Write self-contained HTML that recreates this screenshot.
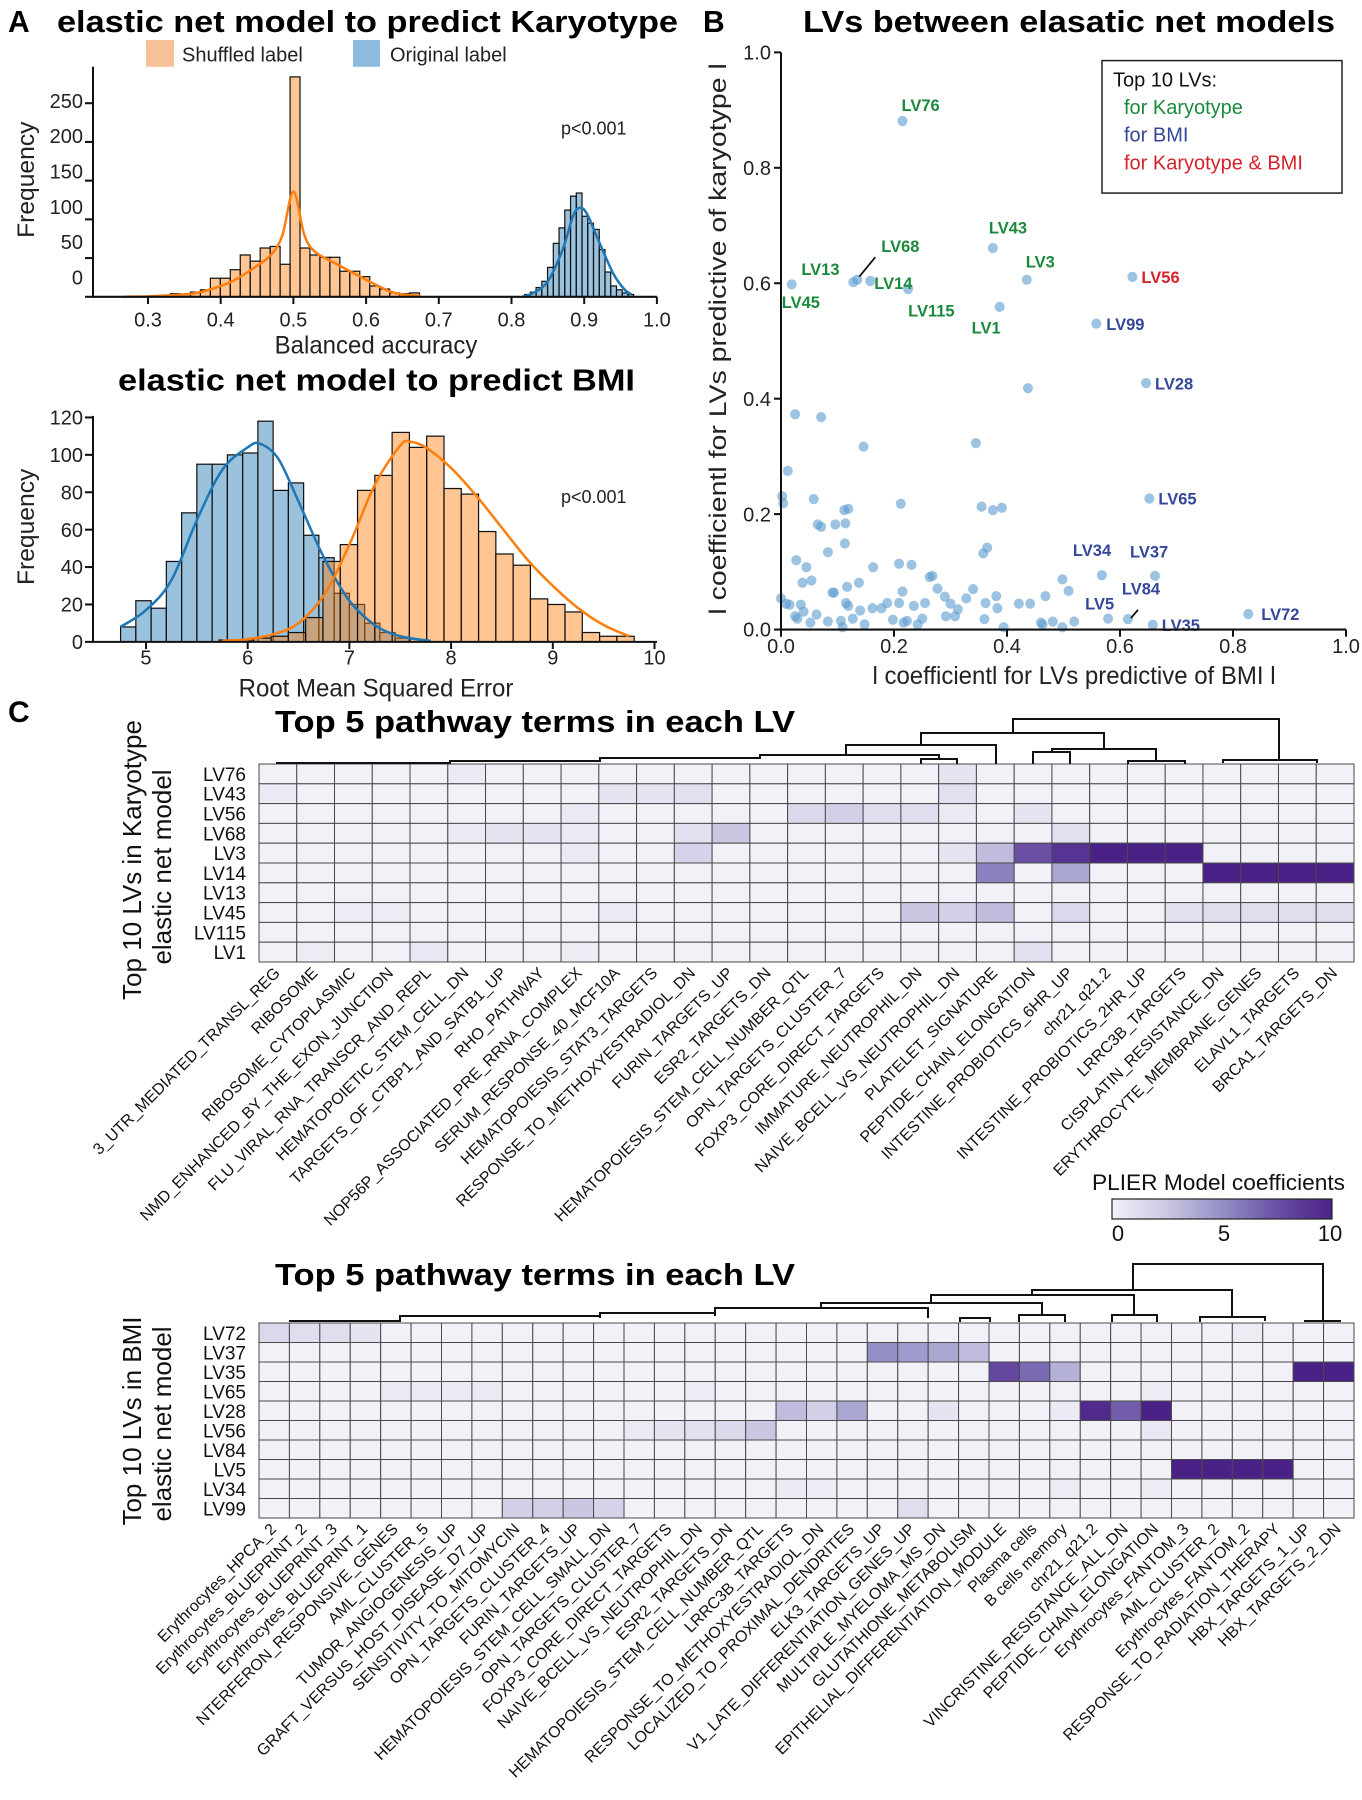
<!DOCTYPE html>
<html><head><meta charset="utf-8">
<style>
html,body{margin:0;padding:0;background:#fff;}
svg{display:block;font-family:"Liberation Sans",sans-serif;}
</style></head>
<body>
<svg id="fig" width="1362" height="1800" viewBox="0 0 1362 1800" xmlns="http://www.w3.org/2000/svg">
<g id="panelA" transform="matrix(1,0,0,1.027,0,0)"></g>
<g id="panelB" transform="matrix(1,0,0,1.027,0,0)"></g>
<g id="panelC"></g>
</svg>
<script>
// ---------- Panel A data ----------
const karyoShufStart = 0.331, karyoShufWidth = 0.0137;
const karyoShufCounts = [4,3,6,9,24,24,35,54,46,63,65,42,284,63,54,51,51,33,33,26,14,10,5,4,5];
const karyoOrigStart = 0.818, karyoOrigWidth = 0.0079;
const karyoOrigCounts = [3,6,12,20,38,69,89,112,130,134,104,95,87,61,32,14,9,5,3];
const karyoShufKdeX = [0.265,0.30,0.33,0.36,0.38,0.40,0.42,0.45,0.47,0.485,0.50,0.515,0.53,0.56,0.60,0.63,0.65,0.675];
const karyoShufKdeY = [0,0.5,2,4,8,14,22,40,55,80,136,80,58,42,22,8,3,1];
const karyoOrigKdeX = [0.815,0.83,0.85,0.87,0.885,0.895,0.905,0.92,0.94,0.955,0.965];
const karyoOrigKdeY = [0,5,20,60,105,115,105,72,30,10,3];
const karyoXTicks = [0.3,0.4,0.5,0.6,0.7,0.8,0.9,1.0];
const karyoXTickLabels = ["0.3","0.4","0.5","0.6","0.7","0.8","0.9","1.0"];
const karyoYTicks = [0,50,100,150,200,250];

const bmiOrigStart = 4.75, bmiOrigWidth = 0.15;
const bmiOrigCounts = [8,22,18,43,69,95,95,100,101,118,81,85,57,45,26,20,10,5,2];
const bmiShufStart = 5.72, bmiShufWidth = 0.17;
const bmiShufCounts = [1,1,2,3,5,13,43,52,81,89,112,104,110,82,79,59,47,41,23,20,16,5,3,3];
const bmiOrigKdeX = [4.75,5.0,5.25,5.5,5.75,6.0,6.12,6.3,6.5,6.75,7.0,7.25,7.5,7.8];
const bmiOrigKdeY = [8,17,33,65,92,104,106,98,75,45,22,9,3,0.5];
const bmiShufKdeX = [5.75,6.0,6.25,6.5,6.75,7.0,7.25,7.5,7.6,7.75,8.0,8.25,8.5,8.75,9.0,9.25,9.5,9.75];
const bmiShufKdeY = [0.5,1.5,4,10,25,52,84,105,107,104,93,78,61,44,30,18,9,3];
const bmiXTicks = [5,6,7,8,9,10];
const bmiYTicks = [0,20,40,60,80,100,120];

// ---------- Panel B data ----------
const lvNames = ["LV76","LV43","LV13","LV68","LV14","LV45","LV115","LV3","LV1","LV56","LV99","LV28","LV65","LV34","LV37","LV5","LV84","LV35","LV72"];
const lvBmiCoef = [0.215,0.375,0.128,0.135,0.158,0.019,0.225,0.435,0.387,0.622,0.558,0.646,0.652,0.568,0.662,0.579,0.614,0.658,0.827];
const lvKarCoef = [0.881,0.661,0.602,0.606,0.604,0.598,0.59,0.606,0.559,0.611,0.53,0.427,0.227,0.094,0.093,0.019,0.018,0.008,0.027];
const lvGroup = ["k","k","k","k","k","k","k","k","k","b2","b","b","b","b","b","b","b","b","b"];
const otherBmiCoef = [0.437,0.345,0.025,0.071,0.146,0.012,0.002,0.004,0.058,0.212,0.355,0.375,0.391,0.119,0.112,0.065,0.071,0.096,0.114,0.113,0.083,0.365,0.358,0.027,0.045,0.038,0.054,0.163,0.209,0.231,0.263,0.268,0.091,0.094,0.117,0.138,0.277,0.29,0.3,0.313,0.328,0.34,0.381,0.383,0.362,0.421,0.441,0.468,0.498,0.509,0.0,0.009,0.015,0.035,0.04,0.029,0.025,0.063,0.052,0.083,0.106,0.109,0.115,0.119,0.127,0.14,0.148,0.162,0.178,0.188,0.198,0.209,0.215,0.217,0.223,0.235,0.242,0.25,0.255,0.292,0.308,0.36,0.394,0.46,0.463,0.481,0.498,0.519];
const otherKarCoef = [0.418,0.323,0.373,0.368,0.317,0.275,0.231,0.219,0.226,0.218,0.213,0.207,0.211,0.209,0.207,0.182,0.178,0.182,0.184,0.149,0.134,0.142,0.132,0.12,0.108,0.081,0.085,0.108,0.114,0.112,0.091,0.093,0.064,0.064,0.074,0.081,0.071,0.057,0.045,0.035,0.054,0.07,0.058,0.037,0.046,0.045,0.045,0.058,0.087,0.067,0.054,0.045,0.043,0.043,0.031,0.019,0.023,0.026,0.012,0.014,0.015,0.004,0.046,0.041,0.019,0.033,0.009,0.037,0.037,0.046,0.017,0.046,0.066,0.012,0.015,0.041,0.009,0.019,0.046,0.023,0.023,0.018,0.004,0.012,0.009,0.014,0.004,0.014];
const bTicks = [0,0.2,0.4,0.6,0.8,1.0];
const bTickLabels = ["0.0","0.2","0.4","0.6","0.8","1.0"];

// ---------- Panel C data ----------
const karRows = ["LV76","LV43","LV56","LV68","LV3","LV14","LV13","LV45","LV115","LV1"];
const karCols = ["3_UTR_MEDIATED_TRANSL_REG","RIBOSOME","RIBOSOME_CYTOPLASMIC","NMD_ENHANCED_BY_THE_EXON_JUNCTION","FLU_VIRAL_RNA_TRANSCR_AND_REPL","HEMATOPOIETIC_STEM_CELL_DN","TARGETS_OF_CTBP1_AND_SATB1_UP","RHO_PATHWAY","NOP56P_ASSOCIATED_PRE_RRNA_COMPLEX","SERUM_RESPONSE_40_MCF10A","HEMATOPOIESIS_STAT3_TARGETS","RESPONSE_TO_METHOXYESTRADIOL_DN","FURIN_TARGETS_UP","ESR2_TARGETS_DN","HEMATOPOIESIS_STEM_CELL_NUMBER_QTL","OPN_TARGETS_CLUSTER_7","FOXP3_CORE_DIRECT_TARGETS","IMMATURE_NEUTROPHIL_DN","NAIVE_BCELL_VS_NEUTROPHIL_DN","PLATELET_SIGNATURE","PEPTIDE_CHAIN_ELONGATION","INTESTINE_PROBIOTICS_6HR_UP","chr21_q21.2","INTESTINE_PROBIOTICS_2HR_UP","LRRC3B_TARGETS","CISPLATIN_RESISTANCE_DN","ERYTHROCYTE_MEMBRANE_GENES","ELAVL1_TARGETS","BRCA1_TARGETS_DN"];
const karValues = [
 [0,0,0,0,0,0.4,0,0,0,0,0,0,0,0,0,0,0,0,0.8,0,0,0,0,0,0,0,0,0,0],
 [0.5,0,0,0,0,0,0,0,0,0.8,0.8,1,0,0,0,0,0,0,1,0,0,0,0,0,0,0,0,0,0],
 [0,0,0,0,0,0,0,0,0.5,0,0,0,0,0,1.5,2,1.2,1.2,0.5,0,0.8,0,0,0,0,0,0,0,0],
 [0,0,0,0,0,0.5,0.8,0.8,0.5,0,0,1,2.5,0,0,0,0,0,0,0,0,1,0,0,0,0,0,0,0],
 [0,0,0,0,0,0,0,0,0.5,0,0,1.8,0,0,0,0,0,0,0.8,3,7.5,9,10,10,10,0,0,0,0],
 [0,0,0,0,0,0,0,0,0,0,0,0,0,0,0,0,0,0,0,5.5,0,4,0,0,0,10,10,10,10],
 [0,0,0,0,0,0,0,0,0,0,0,0,0,0,0,0,0,0,0,0,0,0,0,0,0,0,0,0,0],
 [0,0,0.3,0.3,0,0,0,0,0,0.5,0,0,0,0,0,0,0,2.5,2,3,0,1.5,0,0,1,1.2,1.2,1.2,1.2],
 [0,0,0,0,0,0,0,0,0,0,0,0,0,0,0,0,0,0,0,0,0,0,0,0,0,0,0,0,0],
 [0,0.3,0,0,0.6,0,0,0,0.3,0,0,0,0,0,0,0,0,0,0,0,1,0,0,0,0,0,0,0,0]
];
const bmiRows = ["LV72","LV37","LV35","LV65","LV28","LV56","LV84","LV5","LV34","LV99"];
const bmiCols = ["Erythrocytes_HPCA_2","Erythrocytes_BLUEPRINT_2","Erythrocytes_BLUEPRINT_3","Erythrocytes_BLUEPRINT_1","NTERFERON_RESPONSIVE_GENES","AML_CLUSTER_5","TUMOR_ANGIOGENESIS_UP","GRAFT_VERSUS_HOST_DISEASE_D7_UP","SENSITIVITY_TO_MITOMYCIN","OPN_TARGETS_CLUSTER_4","FURIN_TARGETS_UP","HEMATOPOIESIS_STEM_CELL_SMALL_DN","OPN_TARGETS_CLUSTER_7","FOXP3_CORE_DIRECT_TARGETS","NAIVE_BCELL_VS_NEUTROPHIL_DN","ESR2_TARGETS_DN","HEMATOPOIESIS_STEM_CELL_NUMBER_QTL","LRRC3B_TARGETS","RESPONSE_TO_METHOXYESTRADIOL_DN","LOCALIZED_TO_PROXIMAL_DENDRITES","ELK3_TARGETS_UP","V1_LATE_DIFFERENTIATION_GENES_UP","MULTIPLE_MYELOMA_MS_DN","GLUTATHIONE_METABOLISM","EPITHELIAL_DIFFERENTIATION_MODULE","Plasma cells","B cells memory","chr21_q21.2","VINCRISTINE_RESISTANCE_ALL_DN","PEPTIDE_CHAIN_ELONGATION","Erythrocytes_FANTOM_3","AML_CLUSTER_2","Erythrocytes_FANTOM_2","RESPONSE_TO_RADIATION_THERAPY","HBX_TARGETS_1_UP","HBX_TARGETS_2_DN"];
const bmiValues = [
 [1.5,1.2,1.2,0.8,0,0,0,0,0,0,0,0,0,0,0,0,0,0,0,0,0,0,0,0,0,0,0,0,0,0,0,0,0.3,0,0,0],
 [0,0,0,0,0,0,0,0,0,0,0,0,0,0,0,0,0,0,0,0,5,4.5,4,3,0,0,0,0,0,0,0,0,0,0,0,0],
 [0,0,0,0,0,0,0,0,0,0,0,0,0,0,0,0,0,0,0,0,0,0,0,0,8,6.5,3.5,0,0,0,0,0,0,0,10,10],
 [0,0,0,0,0.5,0.5,0.5,0.5,0,0,0,0,0,0,0.3,0,0,0,0,0,0,0,0,0,0,0,0,0,0,0.3,0,0,0,0,0,0],
 [0,0,0,0,0,0,0,0,0,0,0,0,0,0,0,0,0,3,2,4,0,0,0.8,0,0,0,0.4,9.5,7,10,0,0,0,0,0,0],
 [0,0,0,0,0,0,0,0,0,0,0,0,0.5,0.8,1,1.5,2.5,0,0,0,0,0,0,0,0,0,0,0,0,0.6,0,0,0,0,0,0],
 [0,0,0,0,0,0,0,0,0,0,0,0,0,0,0,0,0,0,0,0,0,0,0,0,0,0,0,0,0,0,0,0,0,0,0,0],
 [0,0,0,0,0,0,0,0,0,0,0,0,0,0,0,0,0,0,0,0,0,0,0,0,0,0,0,0,0,0,10,10,10,10,0,0],
 [0,0,0,0,0,0,0,0,0,0,0,0,0,0,0,0,0,0.4,0.3,0,0,0,0,0,0,0,0.3,0,0,0.3,0,0,0,0,0,0],
 [0,0,0,0,0,0,0,0,2,2,2.5,1.8,0,0,0,0,0,0,0,0,0,1.2,0,0,0,0,0,0,0,0,0,0,0,0,0,0]
];
const cbarTicks = [0,5,10];

// ---------- helpers ----------
const NS = "http://www.w3.org/2000/svg";
function mk(parent, tag, attrs, text){
  const e = document.createElementNS(NS, tag);
  for (const k in attrs) e.setAttribute(k, attrs[k]);
  if (text !== undefined) e.textContent = text;
  parent.appendChild(e);
  return e;
}
function smoothPath(pts){
  let d = "M"+pts[0][0].toFixed(1)+","+pts[0][1].toFixed(1);
  for (let i=0;i<pts.length-1;i++){
    const p0=pts[i-1]||pts[i], p1=pts[i], p2=pts[i+1], p3=pts[i+2]||p2;
    const c1x=p1[0]+(p2[0]-p0[0])/6, c1y=p1[1]+(p2[1]-p0[1])/6;
    const c2x=p2[0]-(p3[0]-p1[0])/6, c2y=p2[1]-(p3[1]-p1[1])/6;
    d+=" C"+c1x.toFixed(1)+","+c1y.toFixed(1)+" "+c2x.toFixed(1)+","+c2y.toFixed(1)+" "+p2[0].toFixed(1)+","+p2[1].toFixed(1);
  }
  return d;
}
const ORANGE="#ff7f0e", BLUE="#1f77b4";

// ---------- Panel A ----------
const A = document.getElementById("panelA");
let t;
t = mk(A,"text",{x:8,y:31,"font-size":30,"font-weight":"bold"},"A");
 
t = mk(A,"text",{x:57,y:31,"font-size":30,"font-weight":"bold",textLength:621,lengthAdjust:"spacingAndGlyphs"},"elastic net model to predict Karyotype");
 
const lg = mk(A,"g",{});
 
t = mk(lg,"rect",{x:146,y:39,width:28,height:26,fill:"#f8c096"});
 
t = mk(lg,"text",{x:182,y:60,"font-size":20,fill:"#222"},"Shuffled label");
 
t = mk(lg,"rect",{x:353,y:39,width:27,height:26,fill:"#8fbadf"});
 
t = mk(lg,"text",{x:390,y:60,"font-size":20,fill:"#222"},"Original label");
 

function histPanel(cfg){
  const g = mk(A,"g",{});
   
  const sx = cfg.sx, sy = cfg.sy;
  function bars(start,width,counts,color,nm){
    counts.forEach((c,i)=>{
      const x0=sx(start+i*width), x1=sx(start+(i+1)*width);
      const r = mk(g,"rect",{x:x0,y:sy(c),width:x1-x0,height:sy(0)-sy(c),fill:color,"fill-opacity":0.45,stroke:"#111","stroke-width":1.2});
       
    });
  }
  cfg.series.forEach(s=>bars(s.start,s.width,s.counts,s.color,s.nm));
  cfg.kdes.forEach(k=>{
    const pts = k.x.map((v,i)=>[sx(v),sy(k.y[i])]);
    const p = mk(g,"path",{d:smoothPath(pts),fill:"none",stroke:k.color,"stroke-width":2.5});
     
  });
  const ax = mk(g,"g",{});
   
  mk(ax,"line",{x1:93,y1:sy(0),x2:657,y2:sy(0),stroke:"#111","stroke-width":2});
  mk(ax,"line",{x1:93,y1:sy(0)+1,x2:93,y2:cfg.yTop,stroke:"#111","stroke-width":2});
  cfg.xt.forEach((v,i)=>{
    mk(ax,"line",{x1:sx(v),y1:sy(0),x2:sx(v),y2:sy(0)+7,stroke:"#111","stroke-width":2});
    const tl = mk(ax,"text",{x:sx(v),y:cfg.xLabY,"font-size":20,"text-anchor":"middle",fill:"#222"},cfg.xtl[i]);
     
  });
  cfg.yt.forEach(v=>{
    mk(ax,"line",{x1:85,y1:sy(v),x2:93,y2:sy(v),stroke:"#111","stroke-width":2});
    const tl = mk(ax,"text",{x:83,y:cfg.yLab(v)+7,"font-size":20,"text-anchor":"end",fill:"#222"},String(v));
     
  });
  let tt = mk(g,"text",{x:376,y:cfg.xTitleY,"font-size":24,"text-anchor":"middle",fill:"#222"},cfg.xTitle);
   
  tt = mk(g,"text",{x:0,y:0,"font-size":24,"text-anchor":"middle",fill:"#222",transform:"translate(34,"+cfg.yTitleC+") rotate(-90)"},"Frequency");
   
  tt = mk(g,"text",{x:561,y:cfg.pY,"font-size":18,fill:"#222"},"p<0.001");
   
}
histPanel({
  name:"karyotype-histogram",
  sx:v=>148+(v-0.3)*727, sy:f=>289-f*0.754,
  series:[{start:karyoShufStart,width:karyoShufWidth,counts:karyoShufCounts,color:ORANGE,nm:"shuffled"},
          {start:karyoOrigStart,width:karyoOrigWidth,counts:karyoOrigCounts,color:BLUE,nm:"original"}],
  kdes:[{x:karyoShufKdeX,y:karyoShufKdeY,color:ORANGE,nm:"shuffled"},{x:karyoOrigKdeX,y:karyoOrigKdeY,color:BLUE,nm:"original"}],
  xt:karyoXTicks, xtl:karyoXTickLabels, yt:karyoYTicks,
  yLab:f=>270-f*0.688, yTop:65, xLabY:318, xTitle:"Balanced accuracy", xTitleY:344, yTitleC:175, pY:131
});
t = mk(A,"text",{x:118,y:380,"font-size":30,"font-weight":"bold",textLength:517,lengthAdjust:"spacingAndGlyphs"},"elastic net model to predict BMI");
 
histPanel({
  name:"bmi-histogram",
  sx:v=>146+(v-5)*101.7, sy:f=>625-f*1.821,
  series:[{start:bmiOrigStart,width:bmiOrigWidth,counts:bmiOrigCounts,color:BLUE,nm:"original"},
          {start:bmiShufStart,width:bmiShufWidth,counts:bmiShufCounts,color:ORANGE,nm:"shuffled"}],
  kdes:[{x:bmiOrigKdeX,y:bmiOrigKdeY,color:BLUE,nm:"original"},{x:bmiShufKdeX,y:bmiShufKdeY,color:ORANGE,nm:"shuffled"}],
  xt:bmiXTicks, xtl:bmiXTicks.map(String), yt:bmiYTicks,
  yLab:f=>625-f*1.821, yTop:405, xLabY:647, xTitle:"Root Mean Squared Error", xTitleY:678, yTitleC:513, pY:490
});

// ---------- Panel B ----------
const B = document.getElementById("panelB");
const bx = v=>781+v*565, by = v=>613-v*562;
t = mk(B,"text",{x:703,y:31,"font-size":30,"font-weight":"bold"},"B");
 
t = mk(B,"text",{x:803,y:31,"font-size":30,"font-weight":"bold",textLength:532,lengthAdjust:"spacingAndGlyphs"},"LVs between elasatic net models");
 
const pts = mk(B,"g",{});
 
otherBmiCoef.forEach((v,i)=>{
  const c = mk(pts,"circle",{cx:bx(v),cy:by(otherKarCoef[i]),r:5,fill:"#5b9bd0","fill-opacity":0.6});
   
});
lvBmiCoef.forEach((v,i)=>{
  const c = mk(pts,"circle",{cx:bx(v),cy:by(lvKarCoef[i]),r:5,fill:"#5b9bd0","fill-opacity":0.6});
   
});
const labelOffsets = {LV76:[-1,-10],LV43:[-4,-14],LV13:[-52,-7],LV68:[24,-27],LV14:[4,8],LV45:[-10,23],LV115:[0,27],LV3:[-1,-12],LV1:[-28,26],LV56:[9,6],LV99:[10,6],LV28:[9,6],LV65:[9,6],LV34:[-29,-19],LV37:[-25,-18],LV5:[-23,-9],LV84:[-6,-24],LV35:[9,6],LV72:[13,6]};
const colorMap = {k:"#1b8a3c",b:"#34479b",b2:"#d4232b"};
lvNames.forEach((n,i)=>{
  const o = labelOffsets[n];
  const lt = mk(B,"text",{x:bx(lvBmiCoef[i])+o[0],y:by(lvKarCoef[i])+o[1],"font-size":16.5,"font-weight":"bold",fill:colorMap[lvGroup[i]]},n);
   
});
mk(B,"line",{x1:bx(lvBmiCoef[3])+2,y1:by(lvKarCoef[3])-3,x2:bx(lvBmiCoef[3])+18,y2:by(lvKarCoef[3])-22,stroke:"#111","stroke-width":1.8});
mk(B,"line",{x1:bx(lvBmiCoef[16])+3,y1:by(lvKarCoef[16])-1,x2:bx(lvBmiCoef[16])+10,y2:by(lvKarCoef[16])-9,stroke:"#111","stroke-width":1.8});
const bax = mk(B,"g",{});
 
mk(bax,"line",{x1:781,y1:613,x2:1346,y2:613,stroke:"#111","stroke-width":2});
mk(bax,"line",{x1:781,y1:614,x2:781,y2:51,stroke:"#111","stroke-width":2});
bTicks.forEach((v,i)=>{
  mk(bax,"line",{x1:bx(v),y1:613,x2:bx(v),y2:620,stroke:"#111","stroke-width":2});
  mk(bax,"line",{x1:774,y1:by(v),x2:781,y2:by(v),stroke:"#111","stroke-width":2});
  let l = mk(bax,"text",{x:bx(v),y:636,"font-size":20,"text-anchor":"middle",fill:"#222"},bTickLabels[i]);
   
  l = mk(bax,"text",{x:771,y:by(v)+7,"font-size":20,"text-anchor":"end",fill:"#222"},bTickLabels[i]);
   
});
t = mk(B,"text",{x:1074,y:666,"font-size":24,"text-anchor":"middle",fill:"#222"},"l coefficientl for LVs predictive of BMI l");
 
t = mk(B,"text",{x:0,y:0,"font-size":24,"text-anchor":"middle",fill:"#222",transform:"translate(726,330) rotate(-90)",textLength:537,lengthAdjust:"spacingAndGlyphs"},"l coefficientl for LVs predictive of karyotype l");
 
const bl = mk(B,"g",{});
 
mk(bl,"rect",{x:1102,y:59,width:240,height:129,fill:"#fff",stroke:"#222","stroke-width":1.5});
mk(bl,"text",{x:1113,y:84,"font-size":20,fill:"#111"},"Top 10 LVs:");
mk(bl,"text",{x:1124,y:111,"font-size":20,fill:colorMap.k},"for Karyotype");
mk(bl,"text",{x:1124,y:138,"font-size":20,fill:colorMap.b},"for BMI");
mk(bl,"text",{x:1124,y:165,"font-size":20,fill:colorMap.b2},"for Karyotype & BMI");

// ---------- Panel C ----------
const C = document.getElementById("panelC");
t = mk(C,"text",{x:8,y:722,"font-size":30,"font-weight":"bold"},"C");
 
const stops=[[0,[242,241,248]],[2.5,[202,199,227]],[5,[147,144,199]],[7.5,[106,79,165]],[10,[74,34,135]]];
function cmap(v){
  v=Math.max(0,Math.min(10,v));
  for(let i=0;i<stops.length-1;i++){
    if(v<=stops[i+1][0]){
      const f=(v-stops[i][0])/(stops[i+1][0]-stops[i][0]);
      const a=stops[i][1],b=stops[i+1][1];
      return "rgb("+a.map((c,j)=>Math.round(c+(b[j]-c)*f)).join(",")+")";
    }
  }
}
function heatmap(cfg){
  const g = mk(C,"g",{});
   
  const cw=(1354-259)/cfg.cols.length, rh=(cfg.bottom-cfg.top)/cfg.rows.length;
  let tt = mk(g,"text",{x:275,y:cfg.titleY,"font-size":31,"font-weight":"bold",textLength:520,lengthAdjust:"spacingAndGlyphs"},"Top 5 pathway terms in each LV");
   
  cfg.values.forEach((row,r)=>{
    row.forEach((v,c)=>{
      const cell = mk(g,"rect",{x:259+c*cw,y:cfg.top+r*rh,width:cw,height:rh,fill:cmap(v),stroke:"#4a4a4a","stroke-width":1});
       
    });
    const rl = mk(g,"text",{x:246,y:cfg.top+(r+0.5)*rh+7,"font-size":19,"text-anchor":"end",fill:"#111"},cfg.rows[r]);
     
  });
  cfg.cols.forEach((n,c)=>{
    const x=259+(c+0.5)*cw, y=cfg.bottom+12;
    const cl = mk(g,"text",{x:0,y:0,"font-size":16,"text-anchor":"end",fill:"#111",transform:"translate("+(x+3)+","+y+") rotate(-45)"},n);
     
  });
  cfg.links.forEach(l=>{
    const d="M"+l[0]+","+l[3]+" V"+l[2]+" H"+l[1]+" V"+l[4];
    const p = mk(g,"path",{d:d,fill:"none",stroke:"#111","stroke-width":2});
     
  });
  tt = mk(g,"text",{x:0,y:0,"font-size":26,"text-anchor":"middle",fill:"#111",transform:"translate(141,"+cfg.yl1+") rotate(-90)"},cfg.ylab);
   
  tt = mk(g,"text",{x:0,y:0,"font-size":26,"text-anchor":"middle",fill:"#111",transform:"translate(171,"+cfg.yl2+") rotate(-90)"},"elastic net model");
   
}
heatmap({name:"karyotype-heatmap",rows:karRows,cols:karCols,values:karValues,top:764,bottom:962,titleY:732,
  ylab:"Top 10 LVs in Karyotype",yl1:860,yl2:867,
  links:[[1013,1279,719,733,760],[921,1104,733,745,749],[846,996,745,755,764],[760,939,755,759,759],[921,957,759,764,764],
  [1052,1156,749,752,761],[1033,1070,752,764,764],[1128,1185,761,764,764],[1223,1317,760,763,763],[600,760,758,762,759],[450,600,761,764,762],[277,450,763,764,764]]});
heatmap({name:"bmi-heatmap",rows:bmiRows,cols:bmiCols,values:bmiValues,top:1323,bottom:1518,titleY:1285,
  ylab:"Top 10 LVs in BMI",yl1:1421,yl2:1424,
  links:[[1133,1323,1264,1290,1321],[1032,1232,1290,1295,1317],[931,1134,1295,1303,1315],[821,1042,1303,1308,1315],[715,928,1308,1313,1318],
  [1019,1065,1315,1322,1322],[1112,1157,1315,1322,1322],[1200,1265,1317,1322,1321],[1305,1340,1321,1322,1322],[960,990,1318,1322,1322],
  [600,715,1313,1318,1316],[400,600,1316,1321,1318],[290,400,1321,1322,1322]]});
const cb = mk(C,"g",{});
 
const defs = mk(cb,"defs",{});
const grad = mk(defs,"linearGradient",{id:"pg",x1:0,x2:1,y1:0,y2:0});
stops.forEach(s=>mk(grad,"stop",{offset:(s[0]/10),"stop-color":"rgb("+s[1].join(",")+")"}));
mk(cb,"rect",{x:1112,y:1199,width:220,height:20,fill:"url(#pg)",stroke:"#222","stroke-width":1.2});
t = mk(cb,"text",{x:1092,y:1190,"font-size":22,fill:"#111",textLength:253,lengthAdjust:"spacingAndGlyphs"},"PLIER Model coefficients");
 
cbarTicks.forEach(v=>{
  const l = mk(cb,"text",{x:1118+v*21.2,y:1241,"font-size":22,"text-anchor":"middle",fill:"#111"},String(v));
   
});
</script>
</body></html>
